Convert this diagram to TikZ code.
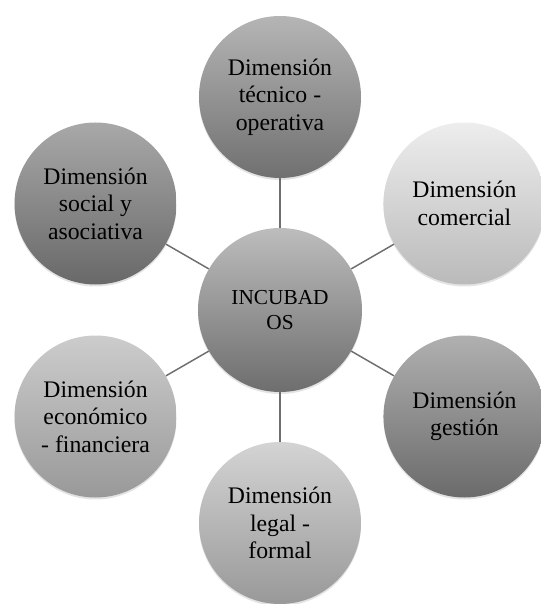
\documentclass[tikz,border=0pt]{standalone}
\usepackage{fontspec}
\setmainfont{Liberation Serif}
\usetikzlibrary{positioning,shadows}

\begin{document}
\begin{tikzpicture}[x=0.75pt, y=0.75pt,
  dim/.style={circle, minimum size=121.5pt, inner sep=0pt, align=center,
    font=\fontsize{17.8}{20.6}\selectfont,
    drop shadow={shadow xshift=0pt, shadow yshift=-1.5pt, opacity=0.18, fill=black!60}},
  hub/.style={dim, minimum size=123pt, font=\fontsize{16}{18.2}\selectfont},
  spoke/.style={draw=black!57, line width=1.1pt}]
\useasboundingbox (-280,-294) rectangle (261,310);
\node[hub, top color=black!26, bottom color=black!57] (hub) at (0,0) {INCUBAD\\OS};
\node[dim, top color=black!29, bottom color=black!56] (tecnica) at (90:213) {Dimensión\\técnico -\\operativa};
\node[dim, top color=black!7, bottom color=black!27] (comercial) at (30:213) {Dimensión\\comercial};
\node[dim, top color=black!31, bottom color=black!58] (gestion) at (-30:213) {Dimensión\\gestión};
\node[dim, top color=black!17, bottom color=black!40] (legal) at (-90:213) {Dimensión\\legal -\\formal};
\node[dim, top color=black!20, bottom color=black!40] (economica) at (210:213) {Dimensión\\económico\\- financiera};
\node[dim, top color=black!34, bottom color=black!59] (social) at (150:213) {Dimensión\\social y\\asociativa};
% connectors
\draw[spoke] (hub) -- (tecnica);
\draw[spoke] (hub) -- (comercial);
\draw[spoke] (hub) -- (gestion);
\draw[spoke] (hub) -- (legal);
\draw[spoke] (hub) -- (economica);
\draw[spoke] (hub) -- (social);
\end{tikzpicture}
\end{document}
